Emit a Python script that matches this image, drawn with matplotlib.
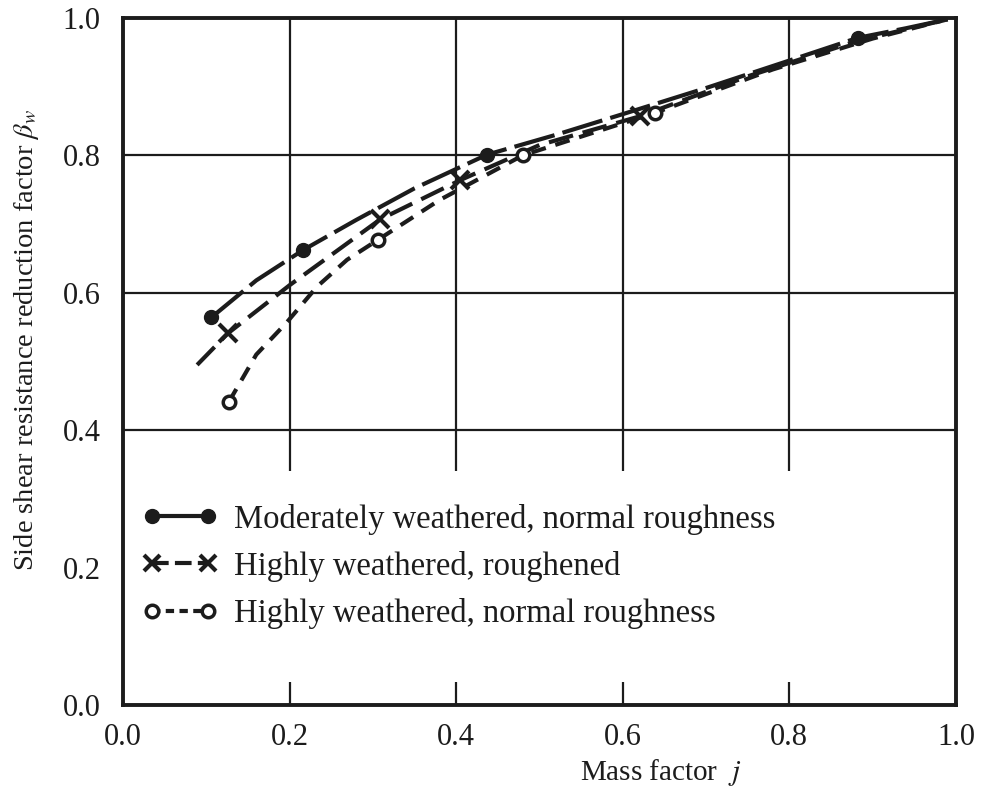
import matplotlib
matplotlib.use("Agg")
import matplotlib.pyplot as plt
from matplotlib.lines import Line2D
from matplotlib.patches import Rectangle

plt.rcParams["font.family"] = ["Liberation Serif", "DejaVu Serif"]
plt.rcParams["mathtext.fontset"] = "stix"

# moderately weathered, normal roughness
j_mod = [0.106, 0.16, 0.216, 0.28, 0.35, 0.437, 0.52, 0.60, 0.70, 0.80, 0.882, 0.94, 0.99]
b_mod = [0.564, 0.618, 0.662, 0.706, 0.752, 0.801, 0.830, 0.860, 0.898, 0.938, 0.971, 0.985, 0.998]
j_mod_pts = [0.106, 0.216, 0.437, 0.882]
b_mod_pts = [0.564, 0.662, 0.801, 0.971]

# highly weathered, roughened
j_rough = [0.089, 0.126, 0.20, 0.25, 0.309, 0.405, 0.50, 0.621, 0.75, 0.88, 0.99]
b_rough = [0.495, 0.541, 0.611, 0.655, 0.707, 0.764, 0.815, 0.857, 0.915, 0.966, 0.998]
j_rough_pts = [0.126, 0.309, 0.405, 0.621]
b_rough_pts = [0.541, 0.707, 0.764, 0.857]

# highly weathered, normal roughness
j_norm = [0.127, 0.16, 0.196, 0.233, 0.269, 0.306, 0.38, 0.48, 0.639, 0.78, 0.90, 0.99]
b_norm = [0.441, 0.51, 0.556, 0.609, 0.648, 0.677, 0.735, 0.800, 0.862, 0.925, 0.970, 0.998]
j_norm_pts = [0.127, 0.306, 0.48, 0.639]
b_norm_pts = [0.441, 0.677, 0.800, 0.862]

labels = ["Moderately weathered, normal roughness",
          "Highly weathered, roughened",
          "Highly weathered, normal roughness"]
ticks = [0.0, 0.2, 0.4, 0.6, 0.8, 1.0]

ink = "#1c1c1c"

fig = plt.figure(figsize=(9.84, 7.87), dpi=100)
ax = fig.add_axes([0.125, 0.1042, 0.8465, 0.873])

ax.set_xlim(0, 1)
ax.set_ylim(0, 1)
ax.set_xticks(ticks)
ax.set_yticks(ticks)
ax.set_xticklabels([f"{t:.1f}" for t in ticks])
ax.set_yticklabels([f"{t:.1f}" for t in ticks])
ax.tick_params(length=0, labelsize=22, colors=ink)
ax.tick_params(axis="x", pad=13)
ax.tick_params(axis="y", pad=16)
ax.grid(True, color=ink, lw=1.6)
for s in ax.spines.values():
    s.set_linewidth(2.8)
    s.set_color(ink)

# blank band behind the legend
ax.add_patch(Rectangle((0, 0.034), 1, 0.306, transform=ax.transAxes,
                       facecolor="white", edgecolor="none", zorder=2))

ax.plot(j_mod, b_mod, color=ink, lw=3, dashes=(10, 2), zorder=3)
ax.plot(j_mod_pts, b_mod_pts, ls="none", marker="o", ms=10, color=ink, zorder=4)

ax.plot(j_rough, b_rough, color=ink, lw=3, dashes=(6, 2.4), zorder=3)
ax.plot(j_rough_pts, b_rough_pts, ls="none", marker="x", ms=13, mew=3, color=ink, zorder=4)

ax.plot(j_norm, b_norm, color=ink, lw=3, dashes=(3.6, 2.4), zorder=3)
ax.plot(j_norm_pts, b_norm_pts, ls="none", marker="o", ms=9, mew=2.5,
        mfc="white", color=ink, zorder=4)

handles = [
    Line2D([], [], color=ink, lw=3, marker="o", ms=10),
    Line2D([], [], color=ink, lw=3, dashes=(4, 1.5), marker="x", ms=12, mew=3),
    Line2D([], [], color=ink, lw=3, dashes=(2, 1.3), marker="o", ms=9, mew=2.5, mfc="white"),
]
ax.legend(handles, labels, loc="upper left", bbox_to_anchor=(-0.012, 0.336),
          frameon=False, fontsize=23.5, handlelength=2.3, handletextpad=0.5,
          labelspacing=0.5, numpoints=2, labelcolor=ink)

ax.set_ylabel(r"Side shear resistance reduction factor $\beta_w$", fontsize=20.5,
              color=ink)
ax.yaxis.set_label_coords(-0.098, 0.531)
ax.set_xlabel(r"Mass factor  $j$", fontsize=21, color=ink)
ax.xaxis.set_label_coords(0.645, -0.075)

fig.savefig("out.png", dpi=100)
